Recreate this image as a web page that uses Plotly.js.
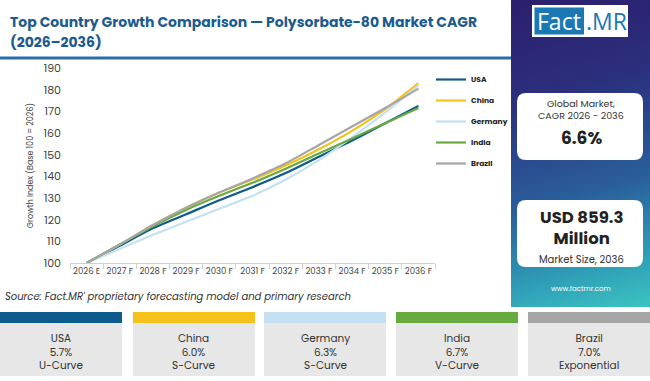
<!DOCTYPE html>
<html>
<head>
<meta charset="utf-8">
<script src="https://cdn.plot.ly/plotly-3.0.1.min.js"></script>
<style>
  html, body { margin: 0; padding: 0; background: #ffffff; }
  #wrap { position: relative; width: 650px; height: 381px; overflow: hidden; background: #ffffff; }
  #side { position: absolute; left: 511px; top: 0; width: 139px; height: 307px;
          background: linear-gradient(165deg, #2c1f6c 0%, #2b2f7e 30%, #2a5f9c 62%, #2f9fb8 85%, #3cc4c0 100%); }
  #chart { position: absolute; left: 0; top: 0; width: 650px; height: 381px; }
</style>
</head>
<body>
<div id="wrap">
  <div id="side"></div>
  <div id="chart"></div>
</div>
<script>
// ---- Data ----
const years = ["2026 E","2027 F","2028 F","2029 F","2030 F","2031 F","2032 F","2033 F","2034 F","2035 F","2036 F"];
const countries = ["USA","China","Germany","India","Brazil"];
const usa     = [100, 108, 116, 122.5, 129, 135, 141.5, 149, 156.5, 164.5, 172.5];
const china   = [100, 108.5, 117.5, 125.5, 132.5, 138.5, 145, 152.5, 161, 171, 183];
const germany = [100, 106.5, 113, 119, 125, 131, 138.5, 147.5, 158, 169.5, 182];
const india   = [100, 108.5, 117, 124.5, 131, 137, 143.5, 150.5, 157.5, 164.5, 171.5];
const brazil  = [100, 108.5, 117.5, 125.5, 132.5, 139, 146, 154.5, 163, 171.5, 180.5];
const cagrLabels = ["5.7%","6.0%","6.3%","6.7%","7.0%"];
const curveTypes = ["U-Curve","S-Curve","S-Curve","V-Curve","Exponential"];
const colors = ["#0d5a8c","#f5c21b","#c4e0f2","#69aa40","#a6a6a6"];
const series = [usa, china, germany, india, brazil];

// ---- Layout helpers (pixel -> paper) ----
const L = 70, R = 435, T = 68, B = 263;
const W = R - L, H = B - T;
const X = px => (px - L) / W;
const Y = py => (B - py) / H;

const font = "Poppins, 'Open Sans', 'DejaVu Sans', sans-serif";

const traces = series.map((s, i) => ({
  x: years, y: s, name: countries[i], type: "scatter", mode: "lines",
  line: {color: colors[i], width: 2.2, shape: "spline", smoothing: 0.8},
  legendgroup: "g" + i, hoverinfo: "skip"
}));

const shapes = [];
const annotations = [];

// title underline
shapes.push({type:"line", xref:"paper", yref:"paper", x0:X(0), x1:X(511), y0:Y(58), y1:Y(58),
  line:{color:"#2a6ea6", width:3}});

function roundRect(x0, y0, x1, y1, r) {
  const a = X(x0), b = X(x1), c = Y(y0), d = Y(y1);
  const rx = r / W, ry = r / H;
  return `M ${a+rx},${c} L ${b-rx},${c} Q ${b},${c} ${b},${c-ry} L ${b},${d+ry} Q ${b},${d} ${b-rx},${d} L ${a+rx},${d} Q ${a},${d} ${a},${d+ry} L ${a},${c-ry} Q ${a},${c} ${a+rx},${c} Z`;
}

// sidebar cards
shapes.push({type:"path", xref:"paper", yref:"paper", path: roundRect(517, 93, 643, 160, 9), fillcolor:"#ffffff", line:{width:0}});
shapes.push({type:"path", xref:"paper", yref:"paper", path: roundRect(517, 200, 643, 267, 9), fillcolor:"#ffffff", line:{width:0}});

// logo
shapes.push({type:"rect", xref:"paper", yref:"paper", x0:X(532), x1:X(628), y0:Y(5), y1:Y(37), fillcolor:"#ffffff", line:{width:0}});
shapes.push({type:"rect", xref:"paper", yref:"paper", x0:X(534.5), x1:X(584), y0:Y(7.5), y1:Y(34.5), fillcolor:"#1a78b4", line:{width:0}});
annotations.push({xref:"paper", yref:"paper", x:X(559), y:Y(21), text:"Fact", showarrow:false,
  font:{family:"'Open Sans', sans-serif", size:23, color:"#ffffff"}, xanchor:"center", yanchor:"middle"});
annotations.push({xref:"paper", yref:"paper", x:X(606), y:Y(21), text:".MR", showarrow:false,
  font:{family:"'Open Sans', sans-serif", size:23, color:"#1a78b4"}, xanchor:"center", yanchor:"middle"});

// sidebar texts
const dark = "#222222";
annotations.push({xref:"paper", yref:"paper", x:X(581), y:Y(109), text:"Global Market,<br>CAGR 2026 - 2036", showarrow:false,
  font:{family:font, size:9.5, color:"#333"}, xanchor:"center", yanchor:"middle"});
annotations.push({xref:"paper", yref:"paper", x:X(581), y:Y(138), text:"<b>6.6%</b>", showarrow:false,
  font:{family:font, size:17, color:dark}, xanchor:"center", yanchor:"middle"});
annotations.push({xref:"paper", yref:"paper", x:X(581), y:Y(228), text:"<b>USD 859.3<br>Million</b>", showarrow:false,
  font:{family:font, size:16.5, color:dark}, xanchor:"center", yanchor:"middle"});
annotations.push({xref:"paper", yref:"paper", x:X(581), y:Y(259), text:"Market Size, 2036", showarrow:false,
  font:{family:font, size:10, color:"#333"}, xanchor:"center", yanchor:"middle"});
annotations.push({xref:"paper", yref:"paper", x:X(581), y:Y(288), text:"www.factmr.com", showarrow:false,
  font:{family:font, size:7, color:"#ffffff"}, xanchor:"center", yanchor:"middle"});

// title
annotations.push({xref:"paper", yref:"paper", x:X(8), y:Y(22), text:"<b>Top Country Growth Comparison — Polysorbate-80 Market CAGR</b>", showarrow:false,
  font:{family:font, size:14, color:"#1c5b8d"}, xanchor:"left", yanchor:"middle"});
annotations.push({xref:"paper", yref:"paper", x:X(8), y:Y(42), text:"<b>(2026–2036)</b>", showarrow:false,
  font:{family:font, size:14, color:"#1c5b8d"}, xanchor:"left", yanchor:"middle"});

// source
annotations.push({xref:"paper", yref:"paper", x:X(3), y:Y(296), text:"<i>Source: Fact.MR' proprietary forecasting model and primary research</i>", showarrow:false,
  font:{family:font, size:10, color:"#333"}, xanchor:"left", yanchor:"middle"});

// bottom cards
const cardX = [0, 133, 264, 396, 528];
const cardW = 122;
countries.forEach((c, i) => {
  const x0 = cardX[i], x1 = Math.min(x0 + cardW, 650);
  shapes.push({type:"rect", xref:"paper", yref:"paper", x0:X(x0), x1:X(x1), y0:Y(323), y1:Y(376), fillcolor:"#e7e7e7", line:{width:0}});
  shapes.push({type:"rect", xref:"paper", yref:"paper", x0:X(x0), x1:X(x1), y0:Y(312), y1:Y(323), fillcolor:colors[i], line:{width:0}});
  const cx = (x0 + x1) / 2;
  annotations.push({xref:"paper", yref:"paper", x:X(cx), y:Y(351.5), text:c + "<br>" + cagrLabels[i] + "<br>" + curveTypes[i], showarrow:false,
    font:{family:font, size:10.5, color:"#333"}, xanchor:"center", yanchor:"middle"});
});

const layout = {
  width: 650, height: 381,
  margin: {l: L, r: 650 - R, t: T, b: 381 - B, pad: 0},
  paper_bgcolor: "rgba(0,0,0,0)", plot_bgcolor: "rgba(0,0,0,0)",
  showlegend: true,
  legend: {x: X(431), y: Y(65), xanchor: "left", yanchor: "top", bgcolor: "rgba(0,0,0,0)",
    font: {family: font, size: 7.5, color: "#222", weight: "bold"}, tracegroupgap: 2, itemwidth: 30},
  xaxis: {type: "category", range: [-0.5, 10.5], showgrid: false, zeroline: false,
    showline: true, linecolor: "#d0d0d0", linewidth: 1, ticks: "outside", tickson: "boundaries",
    ticklen: 5, tickcolor: "#d0d0d0", tickangle: 0, tickfont: {family: font, size: 8.5, color: "#444"}, fixedrange: true},
  yaxis: {range: [100, 190], dtick: 10, showgrid: false, zeroline: false, showline: false,
    ticks: "", ticklabelstandoff: 8, tickfont: {family: font, size: 11, color: "#444"},
    title: {text: "Growth Index (Base 100 = 2026)", font: {family: font, size: 8, color: "#444"}, standoff: 8},
    fixedrange: true},
  shapes: shapes,
  annotations: annotations
};

Plotly.newPlot("chart", traces, layout, {displayModeBar: false, staticPlot: true});
</script>
</body>
</html>
